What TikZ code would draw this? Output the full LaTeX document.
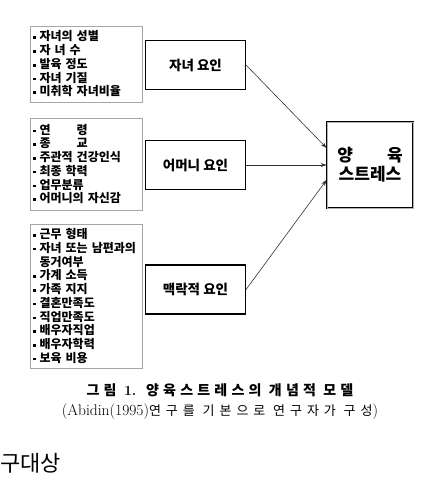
\documentclass[tikz,border=0pt]{standalone}
\usepackage{fontspec}
\usepackage{tikz}
\usetikzlibrary{arrows.meta,positioning}
\newfontfamily\krfont{Noto Sans CJK KR}
\newcommand\sqb{\rule[0.3ex]{2.6pt}{2.6pt}\hspace{4pt}}

\begin{document}
\begin{tikzpicture}[x=1pt,y=-1pt,every node/.style={font=\krfont\bfseries},
  listbox/.style={draw=gray!70,line width=0.6pt,text width=106pt,inner xsep=3pt,inner ysep=0pt,
    align=left,font=\krfont\bfseries\fontsize{12}{13.75}\selectfont},
  factor/.style={draw,line width=1.1pt,minimum width=100pt,minimum height=49pt,
    font=\krfont\bfseries\fontsize{13.5}{15}\selectfont},
  link/.style={-{Stealth[length=6pt,width=4pt]},line width=0.6pt,draw=black!80}]
  \useasboundingbox (0,0) rectangle (431,488);
  % lists of variables
  \node[listbox,minimum height=76pt] (childlist) at (86,64)
    {\sqb 자녀의 성별\\ \sqb 자 녀 수\\ \sqb 발육 정도\\ \sqb 자녀 기질\\ \sqb 미취학 자녀비율};
  \node[listbox,minimum height=92pt] (motherlist) at (86,164)
    {\sqb 연\hspace{26pt}령\\ \sqb 종\hspace{26pt}교\\ \sqb 주관적 건강인식\\ \sqb 최종 학력\\ \sqb 업무분류\\ \sqb 어머니의 자신감};
  \node[listbox,minimum height=144pt] (contextlist) at (86,296)
    {\sqb 근무 형태\\ \sqb 자녀 또는 남편과의\\ \hspace{6.6pt}동거여부\\ \sqb 가계 소득\\ \sqb 가족 지지\\ \sqb 결혼만족도\\
     \sqb 직업만족도\\ \sqb 배우자직업\\ \sqb 배우자학력\\ \sqb 보육 비용};
  % factor boxes
  \node[factor] (child) at (195.5,65) {자녀 요인};
  \node[factor] (mother) at (195.5,165) {어머니 요인};
  \node[factor] (context) at (195.5,289.5) {맥락적 요인};
  % parenting stress
  \node[draw,line width=0.9pt,double=gray!60,double distance=1pt,minimum width=86pt,minimum height=86pt,
    align=center,font=\krfont\bfseries\fontsize{17}{19}\selectfont] (stress) at (370,165)
    {양\hspace{2em}육\\스트레스};
  \draw[link] (child.east) -- ([yshift=17pt]stress.west);
  \draw[link] (mother.east) -- (stress.west);
  \draw[link] (context.east) -- ([yshift=-15pt]stress.west);
  % caption
  \node[font=\krfont\bfseries\fontsize{14}{16}\selectfont\addfontfeature{LetterSpace=30}] (caption) at (220,390)
    {그림 {\rmfamily 1.} 양육스트레스의 개념적 모델};
  \node[font=\krfont\fontsize{13}{15}\selectfont\addfontfeature{LetterSpace=38}] (source) at (220,412)
    {{\rmfamily\fontsize{15.5}{15}\selectfont (Abidin(1995)}연구를 기본으로 연구자가 구성{\rmfamily\fontsize{15.5}{15}\selectfont )}};
  \node[anchor=west,inner sep=0pt,font=\krfont\fontsize{22}{24}\selectfont] (section) at (0,463) {구대상};
\end{tikzpicture}
\end{document}
